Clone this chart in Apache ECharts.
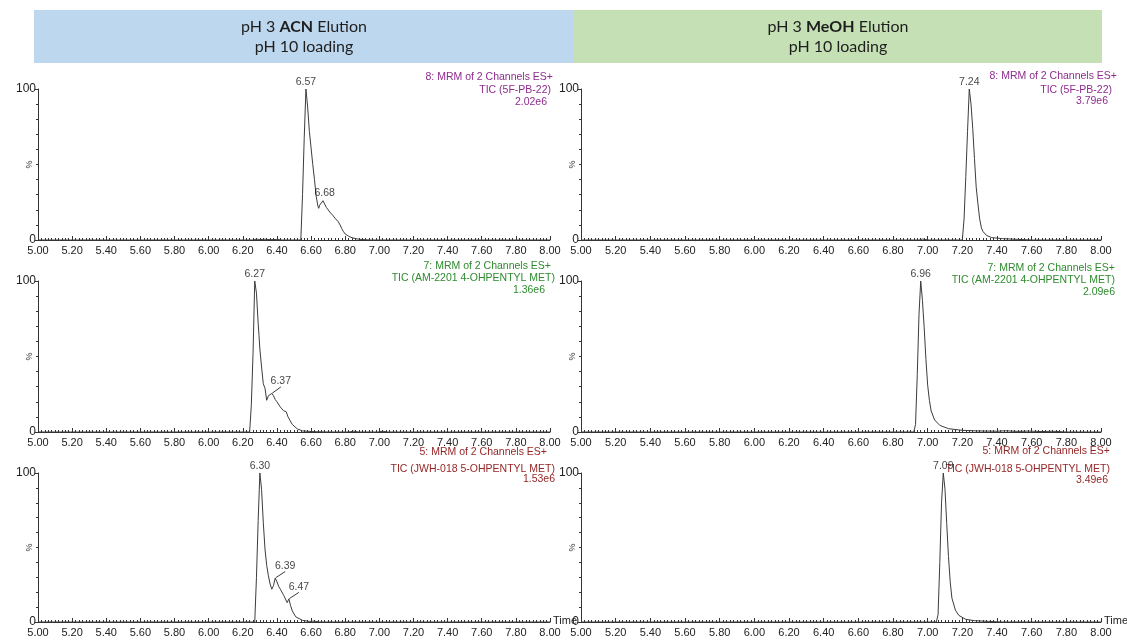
<!DOCTYPE html>
<html>
<head>
<meta charset="utf-8">
<script src="https://cdn.jsdelivr.net/npm/echarts@6/dist/echarts.min.js"></script>
<style>
  html, body { margin: 0; padding: 0; background: #ffffff; }
  #chart { width: 1127px; height: 643px; }
</style>
</head>
<body>
<div id="chart"></div>
<script>
// ---- Chromatogram traces (retention time in min, relative intensity in %) ----
// pH 3 ACN elution, 5F-PB-22
const timeA = [5.00, 6.26, 6.28, 6.30, 6.33, 6.36, 6.40, 6.43, 6.54, 6.55, 6.56, 6.57, 6.58, 6.59, 6.60, 6.61, 6.62, 6.63, 6.64, 6.645, 6.65, 6.66, 6.67, 6.68, 6.69, 6.70, 6.71, 6.72, 6.73, 6.74, 6.75, 6.76, 6.77, 6.78, 6.79, 6.80, 6.82, 6.84, 6.87, 6.90, 6.95, 8.00];
const intA  = [0, 0, 0.6, 0.3, 0.5, 0.2, 0.4, 0, 0, 30, 68, 100, 88, 72, 61, 50, 40, 29, 22.5, 21, 23, 24, 26, 26.5, 21.5, 20, 18.5, 17.5, 16, 14.5, 13.5, 12, 10, 7.5, 5.5, 4, 2.5, 1.5, 0.7, 0.3, 0, 0];
// pH 3 MeOH elution, 5F-PB-22
const timeB = [5.00, 6.95, 6.97, 6.99, 7.01, 7.20, 7.21, 7.22, 7.23, 7.24, 7.25, 7.26, 7.27, 7.28, 7.29, 7.30, 7.31, 7.32, 7.34, 7.37, 7.43, 7.52, 7.61, 8.00];
const intB  = [0, 0, 0.6, 0.3, 0, 0, 14, 42, 72, 100, 90, 74, 54, 35, 24, 14, 8, 5.5, 3, 1.6, 0.9, 0.4, 0, 0];
// pH 3 ACN elution, AM-2201 4-OHpentyl metabolite
const timeC = [5.00, 6.24, 6.25, 6.26, 6.27, 6.28, 6.29, 6.295, 6.30, 6.31, 6.32, 6.33, 6.34, 6.345, 6.35, 6.36, 6.37, 6.38, 6.39, 6.40, 6.42, 6.44, 6.455, 6.465, 6.49, 6.52, 6.55, 6.62, 6.70, 6.82, 6.85, 6.88, 6.99, 7.02, 7.05, 8.00];
const intC  = [0, 0, 18, 52, 100, 92, 72, 64, 55, 43, 32, 29, 21, 20, 24, 25, 25.5, 24, 21.5, 20, 16.5, 14, 13.3, 10, 5, 2, 0.7, 0.2, 0, 0, 0.5, 0, 0, 0.5, 0, 0];
// pH 3 MeOH elution, AM-2201 4-OHpentyl metabolite
const timeD = [5.00, 6.92, 6.93, 6.94, 6.95, 6.96, 6.97, 6.98, 6.99, 7.00, 7.01, 7.02, 7.04, 7.07, 7.12, 7.20, 7.29, 7.40, 7.45, 7.52, 7.58, 7.66, 7.72, 7.80, 8.00];
const intD  = [0, 0, 5, 38, 78, 100, 87, 69, 48, 31, 21, 14, 8, 4.4, 2.2, 1.1, 0.7, 0.5, 0.8, 0.4, 0.6, 0.3, 0.5, 0, 0];
// pH 3 ACN elution, JWH-018 5-OHpentyl metabolite
const timeE = [5.00, 6.27, 6.28, 6.29, 6.30, 6.31, 6.32, 6.33, 6.34, 6.35, 6.36, 6.37, 6.38, 6.39, 6.40, 6.41, 6.42, 6.44, 6.46, 6.47, 6.48, 6.49, 6.51, 6.55, 6.59, 6.62, 6.65, 8.00];
const intE  = [0, 0, 30, 68, 100, 89, 67, 49, 38, 31, 25.5, 22, 24.5, 29.5, 27, 24, 22, 17.8, 13, 15.5, 11, 7.5, 3.5, 1.1, 0.4, 0.6, 0, 0];
// pH 3 MeOH elution, JWH-018 5-OHpentyl metabolite
const timeF = [5.00, 7.05, 7.06, 7.07, 7.08, 7.09, 7.10, 7.11, 7.12, 7.13, 7.14, 7.16, 7.18, 7.22, 7.27, 7.35, 7.43, 8.00];
const intF  = [0, 0, 5, 40, 80, 100, 89, 66, 44, 27, 16, 8, 4.4, 1.8, 0.9, 0.4, 0, 0];

// Annotated peak apexes (retention times)
const peaksA = [6.57, 6.68];
const peaksB = [7.24];
const peaksC = [6.27, 6.37];
const peaksD = [6.96];
const peaksE = [6.30, 6.39, 6.47];
const peaksF = [7.09];

// Trace headers
const channelsA = ['8: MRM of 2 Channels ES+', 'TIC (5F-PB-22)', '2.02e6'];
const channelsB = ['8: MRM of 2 Channels ES+', 'TIC (5F-PB-22)', '3.79e6'];
const channelsC = ['7: MRM of 2 Channels ES+', 'TIC (AM-2201 4-OHPENTYL MET)', '1.36e6'];
const channelsD = ['7: MRM of 2 Channels ES+', 'TIC (AM-2201 4-OHPENTYL MET)', '2.09e6'];
const channelsE = ['5: MRM of 2 Channels ES+', 'TIC (JWH-018 5-OHPENTYL MET)', '1.53e6'];
const channelsF = ['5: MRM of 2 Channels ES+', 'TIC (JWH-018 5-OHPENTYL MET)', '3.49e6'];

// Column headers: normal / bold / normal, then second line
const headerLeft  = ['pH 3 ', 'ACN', ' Elution', 'pH 10 loading'];
const headerRight = ['pH 3 ', 'MeOH', ' Elution', 'pH 10 loading'];

// Axis range
const timeMin = 5.0, timeMax = 8.0, timeStep = 0.2;

// ---- Layout / styling ----
const FONT = '"Liberation Sans", Arial, sans-serif';
const AXIS = '#333333';
const TRACE = '#3c3c3c';
const rowColors = ['#8e2c8e', '#2e8b2e', '#962626'];

const panels = [
  { t: timeA, y: intA, peaks: peaksA, ch: channelsA, row: 0, col: 0,
    titlePos: [[553, 77], [551, 90], [547, 102]], leader: {} },
  { t: timeB, y: intB, peaks: peaksB, ch: channelsB, row: 0, col: 1,
    titlePos: [[1117, 76], [1112, 90], [1108, 101]], leader: {} },
  { t: timeC, y: intC, peaks: peaksC, ch: channelsC, row: 1, col: 0,
    titlePos: [[551, 266], [555, 278], [545, 290]], leader: { 1: [9, -5] } },
  { t: timeD, y: intD, peaks: peaksD, ch: channelsD, row: 1, col: 1,
    titlePos: [[1115, 268], [1115, 280], [1115, 292]], leader: {} },
  { t: timeE, y: intE, peaks: peaksE, ch: channelsE, row: 2, col: 0,
    titlePos: [[547, 452], [555, 469], [555, 479]], leader: { 1: [10, -5], 2: [10, -5] } },
  { t: timeF, y: intF, peaks: peaksF, ch: channelsF, row: 2, col: 1,
    titlePos: [[1110, 451], [1110, 469], [1108, 480]], leader: {} }
];

const rowTop = [89, 281, 473];
const rowHeight = [151, 151, 149];
const colLeft = [38, 581];
const colWidth = [512, 520];

const grids = [], xAxes = [], yAxes = [], series = [], graphics = [];

panels.forEach((p, i) => {
  grids.push({
    left: colLeft[p.col], top: rowTop[p.row],
    width: colWidth[p.col], height: rowHeight[p.row],
    containLabel: false,
    outerBoundsMode: 'none'
  });

  xAxes.push({
    gridIndex: i, type: 'value',
    min: timeMin, max: timeMax, interval: timeStep,
    name: p.row === 2 ? 'Time' : '',
    nameLocation: 'end', nameGap: 3,
    nameMoveOverlap: false,
    nameTextStyle: { fontFamily: FONT, fontSize: 11, color: '#222', verticalAlign: 'bottom', padding: [0, 0, -4, 0] },
    axisLine: { show: true, onZero: false, lineStyle: { color: AXIS, width: 1 } },
    axisTick: { show: true, inside: true, length: 4, lineStyle: { color: AXIS } },
    minorTick: { show: true, splitNumber: 10, length: 2, lineStyle: { color: AXIS } },
    splitLine: { show: false },
    axisLabel: {
      fontFamily: FONT, fontSize: 11, color: '#222', margin: 5,
      showMinLabel: true, showMaxLabel: true,
      formatter: v => v.toFixed(2)
    }
  });

  yAxes.push({
    gridIndex: i, type: 'value', min: 0, max: 100, interval: 100,
    name: '%', nameLocation: 'middle', nameGap: 4, nameRotate: 90,
    nameMoveOverlap: false,
    nameTextStyle: { fontFamily: FONT, fontSize: 9, color: '#333' },
    axisLine: { show: true, lineStyle: { color: AXIS, width: 1 } },
    axisTick: { show: true, inside: false, length: 3, lineStyle: { color: AXIS } },
    minorTick: { show: true, splitNumber: 10, length: 2, lineStyle: { color: AXIS } },
    splitLine: { show: false },
    axisLabel: { fontFamily: FONT, fontSize: 12, color: '#222', margin: 2 }
  });

  const pts = p.t.map((t, k) => [t, p.y[k]]);
  series.push({
    type: 'line', xAxisIndex: i, yAxisIndex: i,
    data: pts, showSymbol: false, symbol: 'none', silent: true,
    lineStyle: { color: TRACE, width: 1 },
    z: 3
  });

  // Peak annotations taken from the trace points at the apex times
  const peakPts = p.peaks.map((pt, k) => {
    const idx = p.t.findIndex(t => Math.abs(t - pt) < 1e-6);
    const item = { value: [p.t[idx], p.y[idx]] };
    if (p.leader[k]) item.labelLine = { show: true, lineStyle: { color: TRACE, width: 1 } };
    return item;
  });
  series.push({
    type: 'scatter', xAxisIndex: i, yAxisIndex: i,
    data: peakPts, symbol: 'circle', symbolSize: 1, silent: true,
    itemStyle: { color: 'rgba(0,0,0,0)' },
    label: {
      show: true, position: 'top', distance: 1,
      fontFamily: FONT, fontSize: 10.5, color: '#111',
      formatter: prm => prm.value[0].toFixed(2)
    },
    labelLayout: prm => {
      const off = p.leader[prm.dataIndex];
      return off ? { dx: off[0], dy: off[1] } : {};
    },
    z: 4
  });

  p.ch.forEach((txt, k) => {
    graphics.push({
      type: 'text', x: p.titlePos[k][0], y: p.titlePos[k][1], silent: true,
      style: {
        text: txt, fill: rowColors[p.row],
        font: '10.5px ' + FONT, align: 'right', verticalAlign: 'middle'
      }
    });
  });
});

// Column header bands
function headerGraphics(h, x, w, fill) {
  const cx = x + w / 2;
  return [
    { type: 'rect', shape: { x: x, y: 10, width: w, height: 53 }, style: { fill: fill }, silent: true },
    { type: 'text', x: cx, y: 27, silent: true,
      style: {
        text: '{n|' + h[0] + '}{b|' + h[1] + '}{n|' + h[2] + '}',
        align: 'center', verticalAlign: 'middle',
        rich: {
          n: { fontFamily: 'Lato, "Noto Sans", sans-serif', fontSize: 16, fill: '#1e1e1e' },
          b: { fontFamily: 'Lato, "Noto Sans", sans-serif', fontSize: 16, fontWeight: 'bold', fill: '#1e1e1e' }
        }
      } },
    { type: 'text', x: cx, y: 47, silent: true,
      style: {
        text: h[3], align: 'center', verticalAlign: 'middle',
        font: '16px Lato, "Noto Sans", sans-serif', fill: '#1e1e1e'
      } }
  ];
}

const option = {
  animation: false,
  backgroundColor: '#ffffff',
  grid: grids,
  xAxis: xAxes,
  yAxis: yAxes,
  series: series,
  graphic: headerGraphics(headerLeft, 34, 540, '#bdd7ee')
    .concat(headerGraphics(headerRight, 574, 528, '#c5e0b4'))
    .concat(graphics)
};

const chart = echarts.init(document.getElementById('chart'), null, { renderer: 'canvas' });
chart.setOption(option);
</script>
</body>
</html>
